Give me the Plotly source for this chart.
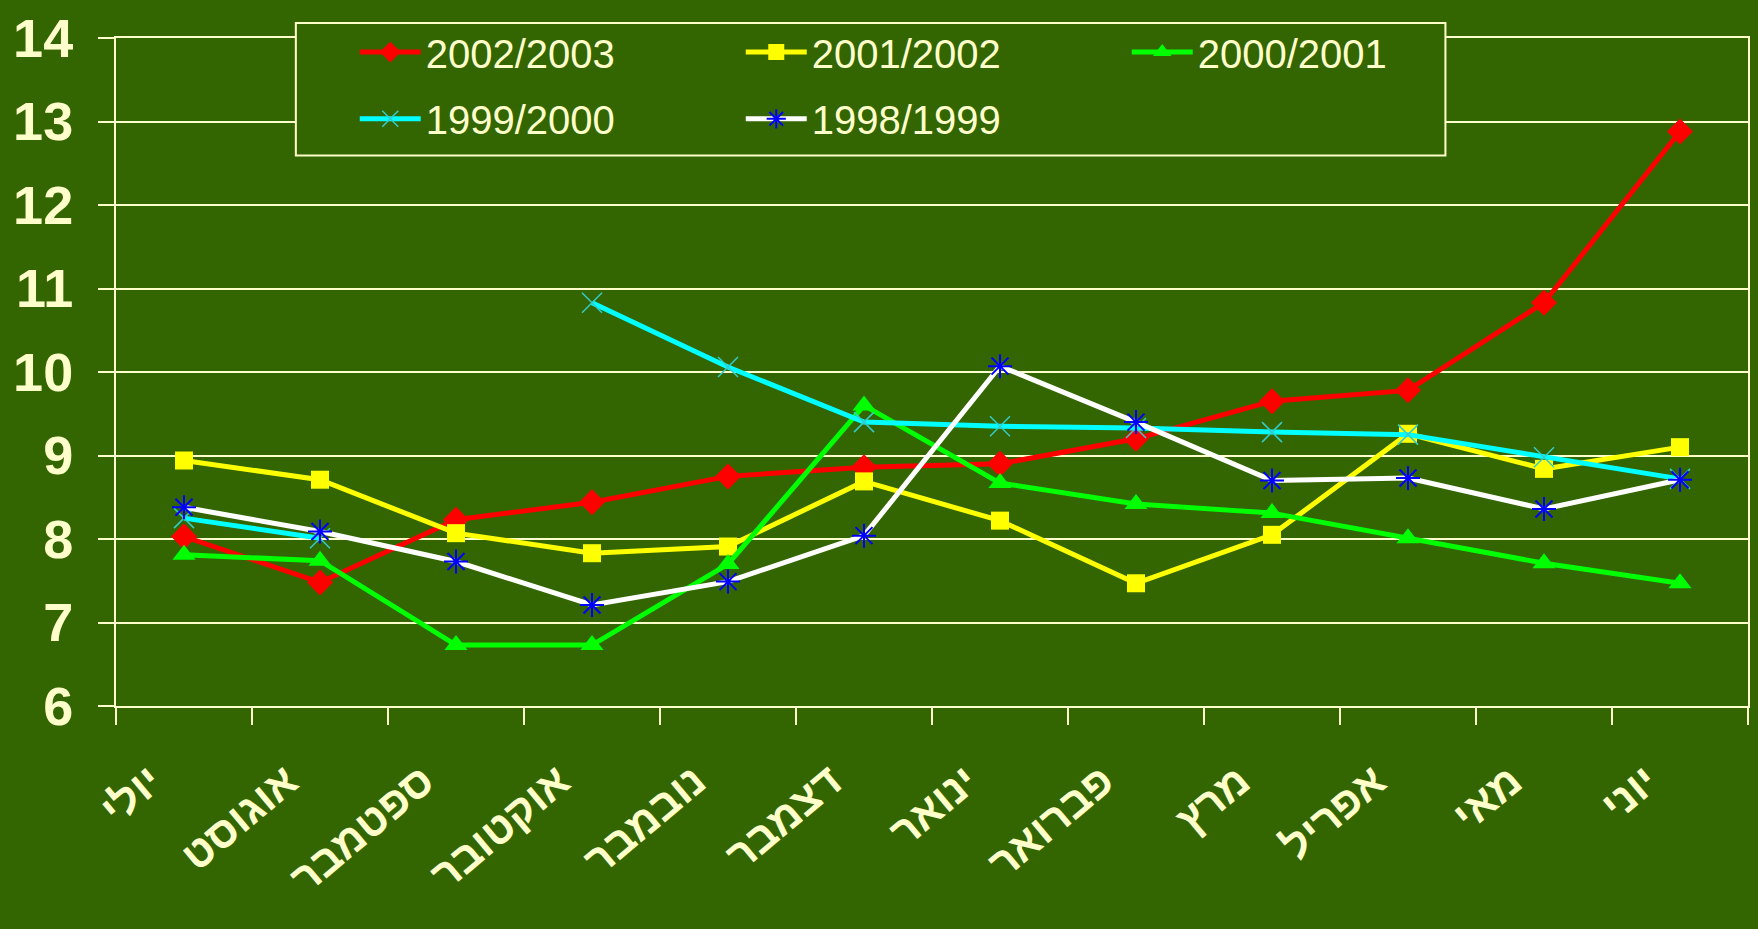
import plotly.graph_objects as go

months = ["יולי", "אוגוסט", "ספטמבר", "אוקטובר", "נובמבר", "דצמבר",
          "ינואר", "פברואר", "מרץ", "אפריל", "מאי", "יוני"]

s_2002_2003 = [8.03, 7.48, 8.23, 8.44, 8.75, 8.86, 8.90, 9.20, 9.65, 9.78, 10.83, 12.88]
s_2001_2002 = [8.94, 8.71, 8.07, 7.83, 7.91, 8.69, 8.22, 7.47, 8.05, 9.26, 8.84, 9.10]
s_2000_2001 = [7.81, 7.74, 6.73, 6.73, 7.70, 9.60, 8.67, 8.42, 8.31, 8.01, 7.71, 7.47]
s_1999_2000 = [8.25, 8.01, None, 10.83, 10.06, 9.40, 9.35, 9.33, 9.28, 9.25, 8.98, 8.72]
s_1998_1999 = [8.38, 8.09, 7.73, 7.21, 7.49, 8.04, 10.07, 9.40, 8.70, 8.73, 8.36, 8.71]

y_ticks = [6, 7, 8, 9, 10, 11, 12, 13, 14]

BG = "#336600"
CREAM = "#FFFFCC"

fig = go.Figure()

fig.add_trace(go.Scatter(
    x=months, y=s_2002_2003, name="2002/2003", mode="lines+markers",
    line=dict(color="#FF0000", width=5),
    marker=dict(symbol="diamond", size=20, color="#FF0000"),
    legend="legend"))
fig.add_trace(go.Scatter(
    x=months, y=s_2001_2002, name="2001/2002", mode="lines+markers",
    line=dict(color="#FFFF00", width=5),
    marker=dict(symbol="square", size=18, color="#FFFF00"),
    legend="legend"))
fig.add_trace(go.Scatter(
    x=months, y=s_2000_2001, name="2000/2001", mode="lines+markers",
    line=dict(color="#00FF00", width=5),
    marker=dict(symbol="triangle-up", size=20, color="#00FF00"),
    legend="legend"))
fig.add_trace(go.Scatter(
    x=months, y=s_1999_2000, name="1999/2000", mode="lines+markers",
    line=dict(color="#00FFFF", width=5), connectgaps=False,
    marker=dict(symbol="x-thin-open", size=20, color="#33CCCC",
                line=dict(color="#33CCCC", width=1.5)),
    legend="legend2"))
fig.add_trace(go.Scatter(
    x=months, y=s_1998_1999, name="1998/1999", mode="lines+markers",
    line=dict(color="#FFFFFF", width=5),
    marker=dict(symbol="asterisk-open", size=20, color="#0000FF",
                line=dict(color="#0000FF", width=2)),
    legend="legend2"))

legend_common = dict(
    orientation="h", xanchor="left", yanchor="middle",
    bgcolor="rgba(0,0,0,0)", borderwidth=0,
    font=dict(family="Arial, Liberation Sans", size=40, color=CREAM),
    itemwidth=61, entrywidth=310, entrywidthmode="pixels",
)

fig.update_layout(
    width=1758, height=929,
    paper_bgcolor=BG, plot_bgcolor=BG,
    margin=dict(l=116, r=8, t=35, b=223),
    showlegend=True,
    legend=dict(x=0.1463, y=0.979, **legend_common),
    legend2=dict(x=0.1463, y=0.879, **legend_common),
    xaxis=dict(
        type="category", range=[-0.5, len(months) - 0.5],
        showgrid=False, zeroline=False,
        showline=True, linecolor=CREAM, linewidth=2, mirror=True,
        ticks="outside", tickson="boundaries", ticklen=17, tickwidth=2, tickcolor=CREAM,
        tickangle=-40,
        tickfont=dict(family="Arial, Liberation Sans", size=43, color=CREAM, weight="bold"),
        ticklabelstandoff=31, ticklabelshift=-33,
    ),
    yaxis=dict(
        range=[6, 14], tickvals=y_ticks, showgrid=True, gridcolor=CREAM, gridwidth=2,
        zeroline=False, showline=True, linecolor=CREAM, linewidth=2, mirror=True,
        ticks="outside", ticklen=16, tickwidth=2, tickcolor=CREAM,
        tickfont=dict(family="Arial, Liberation Sans", size=54, color=CREAM, weight="bold"),
        ticklabelstandoff=14,
    ),
    shapes=[dict(
        type="rect", xref="paper", yref="paper",
        x0=0.1102, x1=0.8146, y0=0.824, y1=1.0224,
        line=dict(color=CREAM, width=2), fillcolor=BG, layer="above",
    )],
)

fig.write_html(
    "out.html",
    config={"displayModeBar": False},
    post_script="document.body.style.margin='0';document.body.style.overflow='hidden';",
)
